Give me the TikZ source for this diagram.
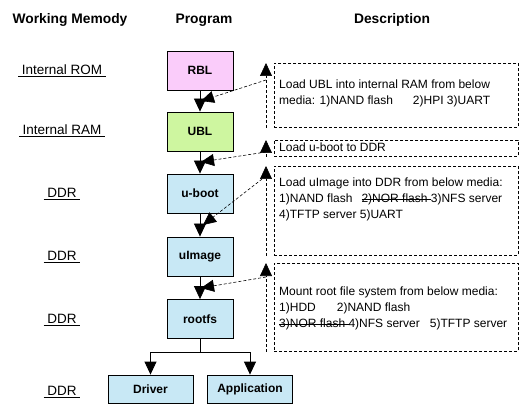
\documentclass[tikz,border=0pt]{standalone}
\usepackage{fontspec}
\setmainfont{Liberation Sans}
\usetikzlibrary{arrows.meta,calc}
\definecolor{pinkfill}{RGB}{250,204,250}
\definecolor{greenfill}{RGB}{206,246,160}
\definecolor{bluefill}{RGB}{200,232,245}
\newsavebox\strkbox
\newcommand\strk[1]{\leavevmode\sbox\strkbox{#1}\usebox\strkbox\kern-\wd\strkbox\rule[0.3em]{\wd\strkbox}{0.6pt}}
\begin{document}
\begin{tikzpicture}[x=1pt,y=-1pt,
  prog/.style={draw=black, line width=0.8pt, minimum width=66pt, minimum height=39pt, inner sep=0pt, font=\bfseries\fontsize{12}{14}\selectfont},
  leaf/.style={prog, minimum width=85pt, minimum height=28pt},
  desc/.style={draw=black, dash pattern=on 3pt off 2pt, line width=0.6pt, inner sep=0pt, minimum width=244pt, anchor=north west},
  desctext/.style={inner sep=0pt, align=left, anchor=north west, font=\fontsize{12}{16}\selectfont},
  hdr/.style={font=\bfseries\fontsize{13.8}{16}\selectfont},
  mem/.style={font=\fontsize{13.5}{16}\selectfont},
  flow/.style={line width=0.8pt, -{Triangle[length=13pt,width=12pt]}},
  ptr/.style={line width=0.6pt, dash pattern=on 3pt off 2pt, -{Triangle[length=13pt,width=12pt]}},
]
\useasboundingbox (0,0) rectangle (520,417);
% headers
\node[hdr] (h1) at (70,20) {Working Memody};
\node[hdr] (h2) at (204,20) {Program};
\node[hdr] (h3) at (392,20) {Description};
% memory labels
\node[mem] (m1) at (62,71) {\underline{\ Internal ROM\ }};
\node[mem] (m2) at (62,131) {\underline{\ Internal RAM\ }};
\node[mem] (m3) at (62,194) {\underline{\ DDR\ }};
\node[mem] (m4) at (62,257) {\underline{\ DDR\ }};
\node[mem] (m5) at (62,320) {\underline{\ DDR\ }};
\node[mem] (m6) at (62,392) {\underline{\ DDR\ }};
% program boxes
\node[prog, fill=pinkfill] (rbl) at (200,70.5) {RBL};
\node[prog, fill=greenfill] (ubl) at (200,131.5) {UBL};
\node[prog, fill=bluefill] (uboot) at (200,193.5) {u-boot};
\node[prog, fill=bluefill] (uimage) at (200,256.5) {uImage};
\node[prog, fill=bluefill] (rootfs) at (200,319) {rootfs};
\node[leaf, fill=bluefill] (drv) at (150.5,389) {Driver};
\node[leaf, fill=bluefill] (app) at (250,389) {Application};
% flow arrows
\draw[flow] (rbl.south) -- (ubl.north);
\draw[flow] (ubl.south) -- (uboot.north);
\draw[flow] (uboot.south) -- (uimage.north);
\draw[flow] (uimage.south) -- (rootfs.north);
\draw[line width=0.8pt] (rootfs.south) -- ++(0,13) coordinate (br);
\draw[flow] (br) -| (drv.north);
\draw[flow] (br) -| (app.north);
% description boxes
\node[desc, minimum height=64pt] (d1) at (274,63) {};
\node[desc, minimum height=16pt] (d2) at (274,140) {};
\node[desc, minimum height=89pt] (d3) at (274,166) {};
\node[desc, minimum height=88pt] (d4) at (274,263) {};
\node[desctext] (t1) at (279,80) {Load UBL into internal RAM from below\\media: 1)NAND flash\hspace{20pt}2)HPI 3)UART};
\node[desctext] (t2) at (279,143) {Load u-boot to DDR};
\node[desctext] (t3) at (279,178) {Load uImage into DDR from below media:\\1)NAND flash\hspace{9pt}\strk{2)NOR flash }3)NFS server\\4)TFTP server 5)UART};
\node[desctext] (t4) at (279,287) {Mount root file system from below media:\\1)HDD\hspace{21pt}2)NAND flash\\\strk{3)NOR flash }4)NFS server\hspace{10pt}5)TFTP server};
% pointers
\coordinate (p1) at (201,101);
\coordinate (p2) at (201,162);
\coordinate (p3) at (203,225);
\coordinate (p4) at (201,288);
\foreach \d/\p/\j in {d1/p1/17, d2/p2/12, d3/p3/10, d4/p4/14} {
  \draw[ptr] ($(\d.south west)+(-8,0)$) -- ($(\d.north west)+(-8,0)$);
  \draw[ptr] ($(\d.north west)+(-8,\j)$) -- (\p);
}
\end{tikzpicture}
\end{document}
